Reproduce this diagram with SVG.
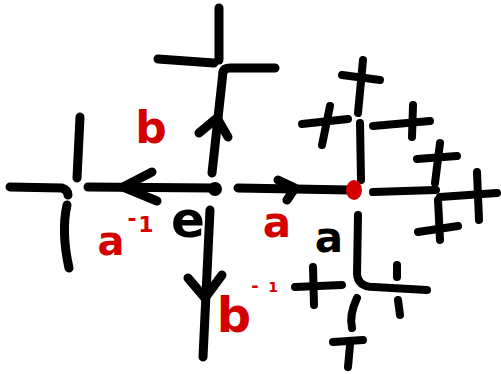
<svg xmlns="http://www.w3.org/2000/svg" width="501" height="374" viewBox="0 0 501 374">
<style>
.s{fill:none;stroke:#000;stroke-width:9;stroke-linecap:round;stroke-linejoin:round}
.t{stroke-width:8}
.lbl{font-family:"DejaVu Sans",sans-serif;font-weight:bold;text-anchor:middle}
.red{fill:#d40000}
.blk{fill:#000}
</style>
<rect width="501" height="374" fill="#fff"/>
<g id="connectors">
  <path class="s" d="M212,173 L223,72"/>
  <path class="s" d="M199,133 L217,118 L228,137"/>
  <path class="s" d="M213,188 L88,187"/>
  <path class="s" d="M152,172 L123,187 L157,201"/>
  <path class="s" d="M238,188 L350,190"/>
  <path class="s" d="M278,180 L295,188 L287,200"/>
  <path class="s" d="M210,210 L203,357"/>
  <path class="s" d="M188,278 L205,298 L222,275"/>
  <path class="s t" d="M360,123 L361,180"/>
  <path class="s t" d="M373,192 L436,190"/>
  <path class="s t" d="M358,215 L357,274 Q358,287 374,287 L427,290"/>
</g>
<g id="node-e">
  <circle cx="215" cy="189" r="7" fill="#000"/>
  <text class="lbl blk" x="188" y="237" font-size="50">e</text>
</g>
<g id="node-a">
  <ellipse cx="354" cy="190" rx="8" ry="10" fill="#d40000"/>
  <text class="lbl blk" x="329" y="252" font-size="42">a</text>
</g>
<g id="node-b">
  <path class="s" d="M219,8 L219,60"/>
  <path class="s" d="M158,59 L214,63"/>
  <path class="s" d="M223,72 Q224,68 230,68 L275,68"/>
</g>
<g id="node-a-inv">
  <path class="s" d="M80,117 L77,178"/>
  <path class="s" d="M10,187 L62,188 Q68,190 68,195"/>
  <path class="s" d="M67,205 Q61,232 69,268"/>
</g>
<g id="node-ab">
  <path class="s t" d="M358,113 L363,60"/>
  <path class="s t" d="M342,75 L380,80"/>
  <path class="s t" d="M302,124 L348,119"/>
  <path class="s t" d="M330,106 L322,145"/>
  <path class="s t" d="M373,126 L430,121"/>
  <path class="s t" d="M413,105 L412,137"/>
</g>
<g id="node-a2">
  <path class="s t" d="M435,183 L440,143"/>
  <path class="s t" d="M417,159 L457,156"/>
  <path class="s t" d="M440,197 L497,193"/>
  <path class="s t" d="M477,172 L479,220"/>
  <path class="s t" d="M438,200 L440,240"/>
  <path class="s t" d="M418,232 L458,226"/>
</g>
<g id="node-ab-inv">
  <path class="s t" d="M397,265 L397,277"/>
  <path class="s t" d="M398,300 L400,315"/>
  <path class="s t" d="M295,287 L342,285"/>
  <path class="s t" d="M313,267 L314,305"/>
  <path class="s t" d="M357,298 Q349,315 352,328"/>
  <path class="s t" d="M333,342 L363,340"/>
  <path class="s t" d="M350,345 L348,367"/>
</g>
<g id="labels">
  <text class="lbl red" x="151" y="143" font-size="44">b</text>
  <text class="lbl red" x="277" y="237" font-size="42">a</text>
  <text class="lbl red" font-size="40"><tspan x="111" y="255">a</tspan><tspan x="132" y="226" font-size="22">-</tspan><tspan x="146" y="232" font-size="22">1</tspan></text>
  <text class="lbl red" font-size="48"><tspan x="234" y="332">b</tspan><tspan x="255" y="292" font-size="18">-</tspan><tspan x="273" y="292" font-size="14">1</tspan></text>
</g>
</svg>
